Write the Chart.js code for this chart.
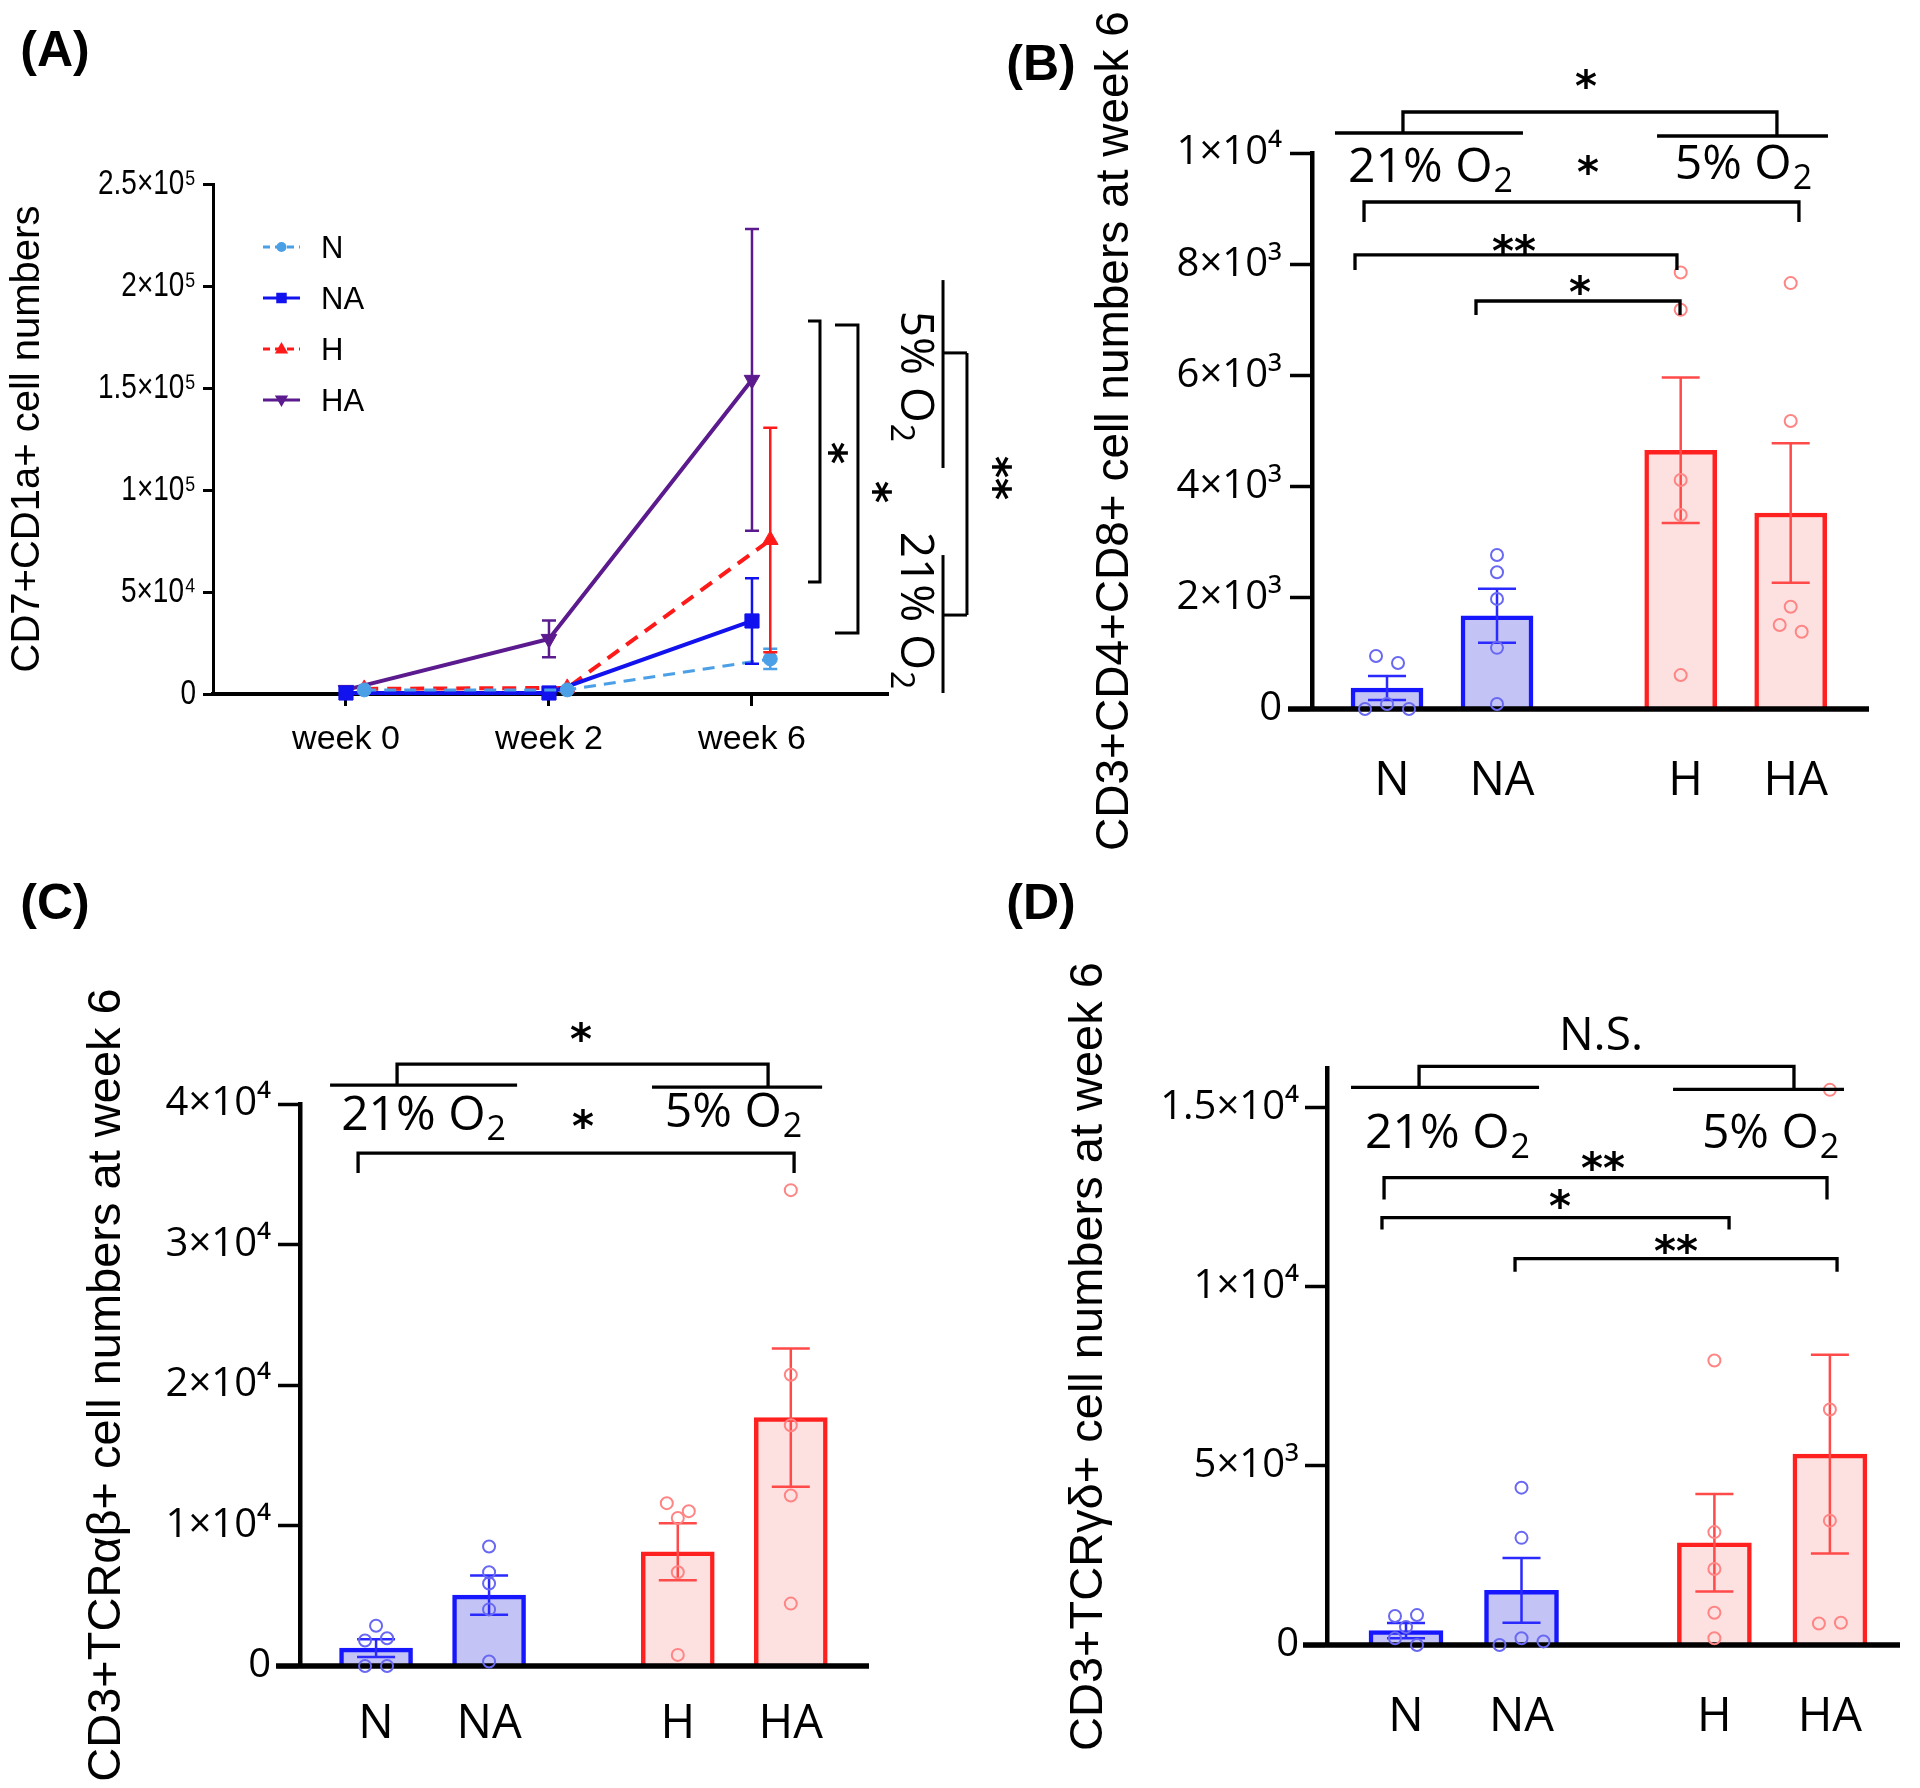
<!DOCTYPE html>
<html lang="en"><head><meta charset="utf-8"><title>Figure</title>
<script src="https://cdn.jsdelivr.net/npm/chart.js@4.4.1/dist/chart.umd.min.js"></script>
<style>
html,body{margin:0;padding:0;background:#ffffff;}
body{position:relative;width:1920px;height:1788px;overflow:hidden;}
canvas{position:absolute;}
</style></head>
<body>
<canvas id="cA" width="1040" height="870" style="left:0px;top:0px"></canvas>
<canvas id="cB" width="920" height="870" style="left:1000px;top:0px"></canvas>
<canvas id="cC" width="960" height="918" style="left:0px;top:870px"></canvas>
<canvas id="cD" width="960" height="918" style="left:960px;top:870px"></canvas>
<script>
// ================= DATA =================
// Panel A
const weeks = ['week 0', 'week 2', 'week 6'];
const seriesNames = ['N', 'NA', 'H', 'HA'];
const meanA_N  = [2000, 2000, 17200];
const semA_N   = [0, 0, 5000];
const meanA_NA = [500, 500, 35800];
const semA_NA  = [0, 0, 21000];
const meanA_H  = [2500, 3000, 75500];
const semA_H   = [0, 0, 55000];
const meanA_HA = [2000, 27000, 154000];
const semA_HA  = [0, 9000, 74000];
const yTicksA  = [0, 50000, 100000, 150000, 200000, 250000];
const yTickLabelsA = ['0', '5×10⁴', '1×10⁵', '1.5×10⁵', '2×10⁵', '2.5×10⁵'];

// Panels B-D
const groups = ['N', 'NA', 'H', 'HA'];

const meanB = [378, 1677, 4653, 3525];
const semB  = [216, 484, 1308, 1255];
const ptsB_N  = [953, 827, 0, 90, 0];
const ptsB_NA = [2770, 2460, 1980, 1100, 90];
const ptsB_H  = [7850, 7180, 4120, 3490, 610];
const ptsB_HA = [7660, 5180, 1840, 1510, 1390];
const yTicksB = [0, 2000, 4000, 6000, 8000, 10000];
const yTickLabelsB = ['0', '2×10³', '4×10³', '6×10³', '8×10³', '1×10⁴'];

const meanC = [1270, 5045, 8130, 17680];
const semC  = [630, 1395, 2030, 4920];
const ptsC_N  = [2860, 1810, 1970, 0, 0];
const ptsC_NA = [8510, 6670, 5870, 4030, 320];
const ptsC_H  = [11590, 11020, 10540, 6670, 790];
const ptsC_HA = [33870, 20730, 17140, 12130, 4440];
const yTicksC = [0, 10000, 20000, 30000, 40000];
const yTickLabelsC = ['0', '1×10⁴', '2×10⁴', '3×10⁴', '4×10⁴'];

const meanD = [400, 1527, 2853, 5328];
const semD  = [215, 904, 1357, 2773];
const ptsD_N  = [810, 835, 500, 187, 0];
const ptsD_NA = [4390, 2990, 0, 187, 100];
const ptsD_H  = [7940, 3150, 2120, 900, 187];
const ptsD_HA = [15490, 6570, 3470, 600, 620];
const yTicksD = [0, 5000, 10000, 15000];
const yTickLabelsD = ['0', '5×10³', '1×10⁴', '1.5×10⁴'];

// ================= STYLE / LAYOUT =================
const SANS = "'Liberation Sans', Arial, sans-serif";
const OPEN = "'Open Sans', 'DejaVu Sans', sans-serif";
const STAR = "'DejaVu Sans', sans-serif";

const GAP = 0.67;                       // extra space between normoxia and hypoxia groups
const catPos = i => i + (i >= 2 ? GAP : 0);
const BAR_BORDER = ['#1717ff', '#1717ff', '#ff2020', '#ff2020'];
const BAR_FILL   = ['#c3c3f6', '#c3c3f6', '#fde0e0', '#fde0e0'];
const ERR_COL    = ['#2a2aff', '#2a2aff', '#ff4a4a', '#ff4a4a'];
const PT_COL     = ['#6868f2', '#6868f2', '#ff8484', '#ff8484'];

Chart.defaults.font.family = SANS;
Chart.defaults.color = '#000';

function drawText(ctx, text, px, py, family, size, centerEm, rot, weight) {
  ctx.save();
  ctx.translate(px, py);
  if (rot) ctx.rotate(rot);
  ctx.font = (weight || 'normal') + ' ' + size + 'px ' + family;
  ctx.textAlign = 'center';
  ctx.textBaseline = 'alphabetic';
  ctx.fillStyle = '#000';
  ctx.fillText(text, 0, centerEm * size);
  ctx.restore();
}
function drawStar(ctx, text, px, py, rot) {
  drawText(ctx, text, px, py, STAR, 42, 0.57, rot, 'bold');
}
function drawO2(ctx, main, px, py, size, rot) {
  ctx.save();
  ctx.translate(px, py);
  if (rot) ctx.rotate(rot);
  ctx.fillStyle = '#000';
  ctx.textAlign = 'left';
  ctx.textBaseline = 'alphabetic';
  const f1 = size + 'px ' + OPEN, f2 = Math.round(size * 0.7) + 'px ' + OPEN;
  ctx.font = f1; const w1 = ctx.measureText(main).width;
  ctx.font = f2; const w2 = ctx.measureText('2').width;
  const x0 = -(w1 + w2) / 2, base = 0.357 * size;
  ctx.font = f1; ctx.fillText(main, x0, base);
  ctx.font = f2; ctx.fillText('2', x0 + w1 + 1, base + 0.21 * size);
  ctx.restore();
}
function polyline(ctx, pts, lw) {
  ctx.save();
  ctx.strokeStyle = '#000'; ctx.lineWidth = lw || 3.3; ctx.lineJoin = 'miter'; ctx.lineCap = 'butt';
  ctx.beginPath();
  pts.forEach((p, i) => i ? ctx.lineTo(p[0], p[1]) : ctx.moveTo(p[0], p[1]));
  ctx.stroke();
  ctx.restore();
}
function marker(ctx, style, x, y, r, color, flip) {
  ctx.save();
  ctx.fillStyle = color;
  ctx.beginPath();
  if (style === 'circle') ctx.arc(x, y, r, 0, Math.PI * 2);
  else if (style === 'rect') ctx.rect(x - r * 0.75, y - r * 0.75, r * 1.5, r * 1.5);
  else { const d = flip ? -1 : 1; ctx.moveTo(x, y - d * r); ctx.lineTo(x + r * 0.95, y + d * r * 0.65); ctx.lineTo(x - r * 0.95, y + d * r * 0.65); ctx.closePath(); }
  ctx.fill();
  ctx.restore();
}

// ================= PANEL A =================
const A_STYLE = {
  N:  {mean: meanA_N,  sem: semA_N,  color: '#4b9fe6', dash: [12, 8], width: 3, point: 'circle',   radius: 7,  rot: 0,   nudge: 0.09},
  NA: {mean: meanA_NA, sem: semA_NA, color: '#1212ee', dash: [],      width: 4, point: 'rect',     radius: 10, rot: 0,   nudge: 0},
  H:  {mean: meanA_H,  sem: semA_H,  color: '#ff1a1a', dash: [14, 9], width: 4, point: 'triangle', radius: 9,  rot: 0,   nudge: 0.09},
  HA: {mean: meanA_HA, sem: semA_HA, color: '#5b1a8e', dash: [],      width: 4, point: 'triangle', radius: 9,  rot: 180, nudge: 0}
};
const annA = {
  brackets: [
    {x: 2.335, xt: 2.276, y1: 182840, y2: 54900, text: '*', tx: 2.433, ty: 118140},
    {x: 2.522, xt: 2.409, y1: 180900, y2: 29900, text: '*', tx: 2.650, ty: 99020}
  ],
  groups: [
    {x: 2.941, y1: 202900, y2: 110800, label: '5% O',  tx: 2.813, ty: 155900, stub: 167200},
    {x: 2.941, y1: 68100,  y2: 490,    label: '21% O', tx: 2.813, ty: 41180,  stub: 38700}
  ],
  outer: {x: 3.059, text: '**', tx: 3.241, ty: 105880}
};
const A_TICK_LEN = 10, A_TICK_PAD = 7;

const pluginA = {
  id: 'extrasA',
  afterDatasetsDraw(chart) {
    const {ctx, scales: {x, y}} = chart;
    ctx.save();
    seriesNames.forEach(n => {
      const s = A_STYLE[n];
      ctx.strokeStyle = s.color; ctx.lineWidth = 2.5; ctx.setLineDash([]);
      s.mean.forEach((m, j) => {
        if (!s.sem[j]) return;
        const px = x.getPixelForValue(j + s.nudge);
        const t = y.getPixelForValue(m + s.sem[j]), b = y.getPixelForValue(m - s.sem[j]);
        ctx.beginPath();
        ctx.moveTo(px, t); ctx.lineTo(px, b);
        ctx.moveTo(px - 7, t); ctx.lineTo(px + 7, t);
        ctx.moveTo(px - 7, b); ctx.lineTo(px + 7, b);
        ctx.stroke();
      });
    });
    ctx.restore();
  },
  afterDraw(chart) {
    const {ctx, scales: {x, y}} = chart;
    // condensed y tick labels (GraphPad narrow style)
    y.ticks.forEach((t, i) => {
      ctx.save();
      ctx.translate(chart.chartArea.left - A_TICK_LEN - A_TICK_PAD, y.getPixelForValue(t.value));
      ctx.scale(0.8, 1);
      ctx.font = '35px ' + SANS; ctx.fillStyle = '#000'; ctx.textAlign = 'right'; ctx.textBaseline = 'middle';
      ctx.fillText(yTickLabelsA[i], 0, 0);
      ctx.restore();
    });
    // legend
    const lx0 = 263, lx1 = 300, ltx = 321, ly0 = 247, lstep = 51;
    seriesNames.forEach((n, i) => {
      const s = A_STYLE[n], yy = ly0 + i * lstep;
      ctx.save();
      ctx.strokeStyle = s.color; ctx.lineWidth = 3; ctx.setLineDash(s.dash.length ? [7, 5] : []);
      ctx.beginPath(); ctx.moveTo(lx0, yy); ctx.lineTo(lx1, yy); ctx.stroke();
      ctx.restore();
      marker(ctx, s.point, (lx0 + lx1) / 2, yy, s.point === 'circle' ? 5 : 7, s.color, s.rot === 180);
      ctx.save();
      ctx.font = '31px ' + SANS; ctx.fillStyle = '#000'; ctx.textAlign = 'left'; ctx.textBaseline = 'alphabetic';
      ctx.fillText(n, ltx, yy + 11);
      ctx.restore();
    });
    // significance annotations
    annA.brackets.forEach(b => {
      polyline(ctx, [[x.getPixelForValue(b.xt), y.getPixelForValue(b.y1)], [x.getPixelForValue(b.x), y.getPixelForValue(b.y1)],
                     [x.getPixelForValue(b.x), y.getPixelForValue(b.y2)], [x.getPixelForValue(b.xt), y.getPixelForValue(b.y2)]], 3);
      drawStar(ctx, b.text, x.getPixelForValue(b.tx), y.getPixelForValue(b.ty), Math.PI / 2);
    });
    annA.groups.forEach(g => {
      polyline(ctx, [[x.getPixelForValue(g.x), y.getPixelForValue(g.y1)], [x.getPixelForValue(g.x), y.getPixelForValue(g.y2)]], 3);
      polyline(ctx, [[x.getPixelForValue(g.x), y.getPixelForValue(g.stub)], [x.getPixelForValue(annA.outer.x), y.getPixelForValue(g.stub)]], 3);
      drawO2(ctx, g.label, x.getPixelForValue(g.tx), y.getPixelForValue(g.ty), 46, Math.PI / 2);
    });
    polyline(ctx, [[x.getPixelForValue(annA.outer.x), y.getPixelForValue(annA.groups[0].stub)],
                   [x.getPixelForValue(annA.outer.x), y.getPixelForValue(annA.groups[1].stub)]], 3);
    drawStar(ctx, annA.outer.text, x.getPixelForValue(annA.outer.tx), y.getPixelForValue(annA.outer.ty), Math.PI / 2);
    drawText(ctx, '(A)', 55, 53, SANS, 50, 0.26, 0, 'bold');
  }
};

new Chart(document.getElementById('cA'), {
  type: 'line',
  data: {
    datasets: seriesNames.map(n => {
      const s = A_STYLE[n];
      return {
        label: n,
        data: s.mean.map((m, j) => ({x: j + s.nudge, y: m})),
        borderColor: s.color, backgroundColor: s.color,
        borderWidth: s.width, borderDash: s.dash, tension: 0,
        pointStyle: s.point, pointRadius: s.radius, pointRotation: s.rot,
        pointBackgroundColor: s.color, pointBorderColor: s.color, pointBorderWidth: 1,
        clip: false
      };
    })
  },
  options: {
    responsive: false, animation: false, events: [],
    layout: {padding: {left: 0, top: 184, right: 152, bottom: 0}},
    plugins: {legend: {display: false}, tooltip: {enabled: false}},
    scales: {
      x: {
        type: 'linear', min: -0.655, max: 2.67, offset: false,
        afterBuildTicks: s => { s.ticks = weeks.map((w, i) => ({value: i})); },
        afterFit: s => { s.height = 176; },
        ticks: {callback: (v, i) => weeks[i], font: {family: SANS, size: 34}, color: '#000', padding: 13, autoSkip: false, maxRotation: 0, minRotation: 0},
        grid: {display: true, drawOnChartArea: false, drawTicks: true, tickLength: 12, tickWidth: 3, tickColor: '#000'},
        border: {display: true, width: 4, color: '#000'}
      },
      y: {
        type: 'linear', min: 0, max: 250000,
        afterBuildTicks: s => { s.ticks = yTicksA.map(v => ({value: v})); },
        afterFit: s => { s.width = 213; },
        ticks: {callback: (v, i) => yTickLabelsA[i], font: {family: SANS, size: 30}, color: 'rgba(0,0,0,0)', padding: A_TICK_PAD, autoSkip: false},
        grid: {display: true, drawOnChartArea: false, drawTicks: true, tickLength: A_TICK_LEN, tickWidth: 3, tickColor: '#000'},
        border: {display: true, width: 3, color: '#000'},
        title: {display: true, text: 'CD7+CD1a+ cell numbers', font: {family: SANS, size: 40}, color: '#000', padding: {top: 4, bottom: 0}}
      }
    }
  },
  plugins: [pluginA]
});

// ================= PANELS B-D =================
function swarmOffsets(vals, pxPerVal, pxPerUnit) {
  const DIAM = 11, STEP = 22;
  const order = vals.map((v, i) => i).sort((a, b) => (vals[b] - vals[a]) || (a - b));
  const off = vals.map(() => 0);
  let row = [];
  const flush = () => {
    const r = row.slice().sort((a, b) => a - b);
    r.forEach((k, j) => { off[k] = (j - (r.length - 1) / 2) * STEP / pxPerUnit; });
    row = [];
  };
  order.forEach(k => {
    if (row.length && (vals[row[0]] - vals[k]) * pxPerVal >= DIAM) flush();
    row.push(k);
  });
  flush();
  return off;
}

function barPanel(p) {
  const pos = groups.map((g, i) => catPos(i));
  const pxPerUnit = (p.area.R - p.area.L) / (p.xMax - p.xMin);
  const pxPerVal = (p.area.B - p.area.T) / p.yMax;
  const scatter = [], scatterCol = [];
  p.pts.forEach((arr, i) => {
    const off = swarmOffsets(arr, pxPerVal, pxPerUnit);
    arr.forEach((v, k) => { scatter.push({x: pos[i] + off[k], y: v}); scatterCol.push(PT_COL[i]); });
  });
  const a = p.ann;
  const plugin = {
    id: 'extras' + p.id,
    afterDatasetDraw(chart, args) {
      if (args.index !== 0) return;
      const {ctx, scales: {x, y}} = chart;
      ctx.save();
      ctx.lineWidth = 2.5;
      p.means.forEach((m, i) => {
        const px = x.getPixelForValue(pos[i]);
        const t = y.getPixelForValue(m + p.sems[i]), b = y.getPixelForValue(Math.max(0, m - p.sems[i]));
        ctx.strokeStyle = ERR_COL[i];
        ctx.beginPath();
        ctx.moveTo(px, t); ctx.lineTo(px, b);
        ctx.moveTo(px - 19, t); ctx.lineTo(px + 19, t);
        ctx.moveTo(px - 19, b); ctx.lineTo(px + 19, b);
        ctx.stroke();
      });
      const y0 = y.getPixelForValue(0);
      ctx.strokeStyle = '#000'; ctx.lineWidth = 5.5;
      ctx.beginPath(); ctx.moveTo(chart.chartArea.left - 24, y0); ctx.lineTo(chart.chartArea.right, y0); ctx.stroke();
      ctx.restore();
    },
    afterDraw(chart) {
      const {ctx, scales: {x, y}} = chart;
      const X = v => x.getPixelForValue(v), Y = v => y.getPixelForValue(v);
      if (a.top.kind === 'text') drawText(ctx, a.top.text, X(a.top.x), Y(a.top.y), OPEN, 46, 0.357, 0);
      else drawStar(ctx, a.top.text, X(a.top.x), Y(a.top.y), 0);
      const tb = a.topBracket;
      polyline(ctx, [[X(tb.x1), Y(tb.leg1)], [X(tb.x1), Y(tb.y)], [X(tb.x2), Y(tb.y)], [X(tb.x2), Y(tb.leg2)]]);
      a.groups.forEach(g => {
        polyline(ctx, [[X(g.x1), Y(g.y)], [X(g.x2), Y(g.y)]]);
        drawO2(ctx, g.label, X(g.tx), Y(g.ty), 48, 0);
      });
      a.brackets.forEach(b => {
        polyline(ctx, [[X(b.x1), Y(b.leg)], [X(b.x1), Y(b.y)], [X(b.x2), Y(b.y)], [X(b.x2), Y(b.leg)]]);
        drawStar(ctx, b.text, X(b.tx), Y(b.ty), 0);
      });
      drawText(ctx, a.letter.text, a.letter.x - p.box.x, a.letter.y - p.box.y, SANS, 50, 0.26, 0, 'bold');
    }
  };
  new Chart(document.getElementById(p.id), {
    type: 'bar',
    data: {
      datasets: [
        {
          type: 'bar', label: 'mean', order: 1,
          data: pos.map((v, i) => ({x: v, y: p.means[i]})),
          backgroundColor: BAR_FILL, borderColor: BAR_BORDER, borderWidth: 4.5,
          borderSkipped: 'start', barThickness: p.barW
        },
        {
          type: 'scatter', label: 'points', order: 0,
          data: scatter,
          pointStyle: 'circle', pointRadius: 6, pointBorderWidth: 2,
          pointBackgroundColor: 'rgba(0,0,0,0)', pointBorderColor: scatterCol,
          showLine: false, clip: false
        }
      ]
    },
    options: {
      responsive: false, animation: false, events: [],
      layout: {padding: {left: 0, top: p.area.T - p.box.y, right: p.box.x + p.box.w - p.area.R, bottom: 0}},
      plugins: {legend: {display: false}, tooltip: {enabled: false}},
      scales: {
        x: {
          type: 'linear', min: p.xMin, max: p.xMax, offset: false,
          afterBuildTicks: s => { s.ticks = pos.map(v => ({value: v})); },
          afterFit: s => { s.height = p.box.y + p.box.h - p.area.B; },
          ticks: {callback: (v, i) => groups[i], font: {family: OPEN, size: 47}, color: '#000', padding: p.xPad, labelOffset: p.xOff, autoSkip: false, maxRotation: 0, minRotation: 0},
          grid: {display: false, offset: false},
          border: {display: false}
        },
        y: {
          type: 'linear', min: 0, max: p.yMax,
          afterBuildTicks: s => { s.ticks = p.yTicks.map(v => ({value: v})); },
          afterFit: s => { s.width = p.area.L - p.box.x; },
          ticks: {callback: (v, i) => p.yLabels[i], font: {family: OPEN, size: 40}, color: '#000', padding: p.yPad, autoSkip: false},
          grid: {display: true, drawOnChartArea: false, drawTicks: true, tickLength: 22, tickWidth: 3.5, tickColor: '#000'},
          border: {display: true, width: 4.5, color: '#000'},
          title: {display: true, text: p.title, font: {family: SANS, size: p.titleSize}, color: '#000', padding: {top: p.titlePad, bottom: 0}}
        }
      }
    },
    plugins: [plugin]
  });
}

barPanel({
  id: 'cB', box: {x: 1000, y: 0, w: 920, h: 870}, area: {L: 1312, T: 153, R: 1869, B: 709},
  xMin: -0.682, xMax: 4.382, yMax: 10000, barW: 72,
  means: meanB, sems: semB, pts: [ptsB_N, ptsB_NA, ptsB_H, ptsB_HA],
  yTicks: yTicksB, yLabels: yTickLabelsB,
  title: 'CD3+CD4+CD8+ cell numbers at week 6', titleSize: 46, titlePad: 88, yPad: 8, xPad: 36, xOff: 5,
  ann: {
    letter: {text: '(B)', x: 1041, y: 67},
    top: {text: '*', x: 1.809, y: 11367},
    topBracket: {x1: 0.145, x2: 3.545, y: 10737, leg1: 10360, leg2: 10306},
    groups: [{label: '21% O', x1: -0.473, x2: 1.236, y: 10360, tx: 0.391, ty: 9793},
             {label: '5% O', x1: 2.455, x2: 4.009, y: 10306, tx: 3.236, ty: 9847}],
    brackets: [{x1: -0.209, x2: 3.745, y: 9119, leg: 8759, text: '*', tx: 1.827, ty: 9820},
               {x1: -0.291, x2: 2.636, y: 8166, leg: 7896, text: '**', tx: 1.155, ty: 8399},
               {x1: 0.809, x2: 2.664, y: 7338, leg: 7086, text: '*', tx: 1.755, ty: 7662}]
  }
});

barPanel({
  id: 'cC', box: {x: 0, y: 870, w: 960, h: 918}, area: {L: 300, T: 1104, R: 869, B: 1666},
  xMin: -0.673, xMax: 4.362, yMax: 40000, barW: 73,
  means: meanC, sems: semC, pts: [ptsC_N, ptsC_NA, ptsC_H, ptsC_HA],
  yTicks: yTicksC, yLabels: yTickLabelsC,
  title: 'CD3+TCRαβ+ cell numbers at week 6', titleSize: 47, titlePad: 79, yPad: 7, xPad: 22, xOff: 0,
  ann: {
    letter: {text: '(C)', x: 55, y: 906},
    top: {text: '*', x: 1.814, y: 45264},
    topBracket: {x1: 0.186, x2: 3.469, y: 42845, leg1: 41350, leg2: 41207},
    groups: [{label: '21% O', x1: -0.407, x2: 1.248, y: 41350, tx: 0.416, ty: 39392},
             {label: '5% O', x1: 2.442, x2: 3.947, y: 41207, tx: 3.159, ty: 39570}],
    brackets: [{x1: -0.159, x2: 3.699, y: 36510, leg: 35087, text: '*', tx: 1.832, ty: 39072}]
  }
});

barPanel({
  id: 'cD', box: {x: 960, y: 870, w: 960, h: 918}, area: {L: 1327, T: 1068, R: 1900, B: 1645},
  xMin: -0.684, xMax: 4.277, yMax: 16100, barW: 74,
  means: meanD, sems: semD, pts: [ptsD_N, ptsD_NA, ptsD_H, ptsD_HA],
  yTicks: yTicksD, yLabels: yTickLabelsD,
  title: 'CD3+TCRγδ+ cell numbers at week 6', titleSize: 47, titlePad: 101, yPad: 6, xPad: 36, xOff: 0,
  ann: {
    letter: {text: '(D)', x: 1041, y: 906},
    top: {text: 'N.S.', x: 1.688, y: 17065, kind: 'text'},
    topBracket: {x1: 0.113, x2: 3.359, y: 16143, leg1: 15557, leg2: 15501},
    groups: [{label: '21% O', x1: -0.476, x2: 1.152, y: 15557, tx: 0.355, ty: 14356},
             {label: '5% O', x1: 2.312, x2: 3.792, y: 15501, tx: 3.152, ty: 14356}],
    brackets: [{x1: -0.190, x2: 3.645, y: 13043, leg: 12429, text: '**', tx: 1.706, ty: 13546},
               {x1: -0.208, x2: 2.797, y: 11926, leg: 11591, text: '*', tx: 1.333, ty: 12485},
               {x1: 0.944, x2: 3.732, y: 10781, leg: 10418, text: '**', tx: 2.338, ty: 11256}]
  }
});
</script>
</body></html>
